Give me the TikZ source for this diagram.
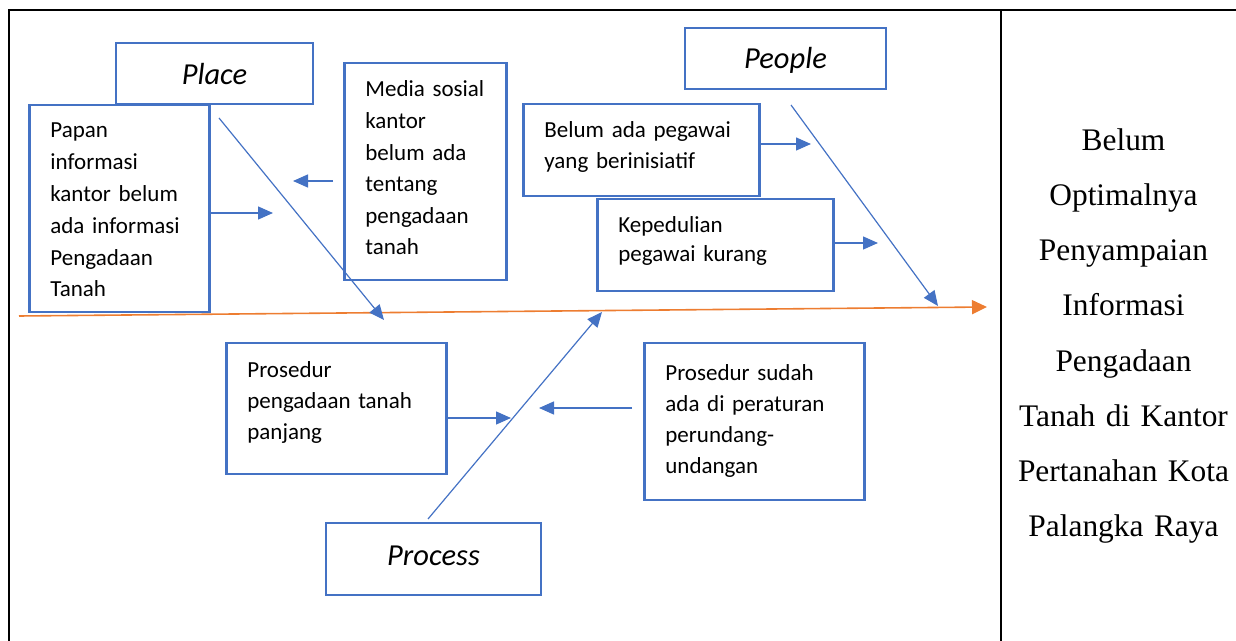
\documentclass[tikz,border=0pt]{standalone}
\usepackage{fontspec}
\setmainfont{Liberation Serif}
\newfontfamily\calibri{Carlito}
\usetikzlibrary{arrows.meta}
\definecolor{boxblue}{HTML}{4472C4}
\definecolor{spineorange}{HTML}{ED7D31}
\tikzset{
  frameline/.style={line width=1.3pt, black},
  cbox/.style={draw=boxblue, line width=1.4pt, inner xsep=10.5pt, inner ysep=0pt,
    align=left, anchor=base west},
  boxfont/.style={font=\calibri\fontsize{11.5}{#1}\selectfont},
  catbox/.style={draw=boxblue, line width=1.4pt, inner sep=0pt, anchor=base,
    font=\calibri\itshape\fontsize{15.25}{18}\selectfont},
  bone/.style={draw=boxblue, line width=0.6pt, -{Triangle[length=7.5pt,width=6.5pt]}},
  arr/.style={draw=boxblue, line width=0.7pt, -{Triangle[length=7.5pt,width=6.5pt]}},
  spine/.style={draw=spineorange, line width=0.8pt, -{Triangle[length=7.5pt,width=7pt]}},
}
\begin{document}
\begin{tikzpicture}[x=0.5pt,y=-0.5pt]
\useasboundingbox (0,0) rectangle (1236,641);
% frame
\draw[frameline] (9,641) -- (9,10) -- (1236,10);
\draw[frameline] (1001,10) -- (1001,641);

% category boxes
\node[catbox, minimum width=98.5pt, text height=21pt, text depth=9.5pt] (place) at (214.5,85) {Place};
\node[catbox, minimum width=100.5pt, text height=20.5pt, text depth=10pt] (people) at (785.5,69) {People};
\node[catbox, minimum width=107.5pt, text height=21pt, text depth=15pt] (process) at (433.5,565) {Process};

% cause boxes
\node[cbox, boxfont=15.9, text width=69pt, text height=16.5pt, text depth=87pt] (papan) at (28,138)
  {Papan\\informasi\\kantor belum\\ada informasi\\Pengadaan\\Tanah};
\node[cbox, boxfont=15.8, text width=60pt, text height=17pt, text depth=91.5pt] (media) at (343,97)
  {Media sosial\\kantor\\belum ada\\tentang\\pengadaan\\tanah};
\node[cbox, boxfont=15.5, text width=97pt, text height=17pt, text depth=29pt] (belum) at (522,138)
  {Belum ada pegawai\\yang berinisiatif};
\node[cbox, boxfont=14.5, text width=97pt, text height=17pt, text depth=29pt] (kepedulian) at (596,233)
  {Kepedulian\\pegawai kurang};
\node[cbox, boxfont=15.5, text width=89pt, text height=17.5pt, text depth=48pt] (prosedurA) at (225,378)
  {Prosedur\\pengadaan tanah\\panjang};
\node[cbox, boxfont=15.5, text width=89pt, text height=18.5pt, text depth=60pt] (prosedurB) at (643,380)
  {Prosedur sudah\\ada di peraturan\\perundang-\\undangan};

% effect
\node[font=\fontsize{15.7}{27.55}\selectfont, text width=115pt, align=center, anchor=base, inner sep=0pt] (effect)
  at (1123.5,150.7)
  {Belum\\Optimalnya\\Penyampaian\\Informasi\\Pengadaan\\Tanah di Kantor\\Pertanahan Kota\\Palangka Raya};

% spine
\coordinate (spL) at (19,316);
\coordinate (spR) at (987,307);
\draw[spine] (spL) -- (spR);

% bones
\coordinate (plA) at (219,118);
\coordinate (plB) at (384,320);
\coordinate (peA) at (791,105);
\coordinate (peB) at (938,306);
\coordinate (prA) at (428,519);
\coordinate (prB) at (602,312);
\draw[bone] (plA) -- (plB);
\draw[bone] (peA) -- (peB);
\draw[bone] (prA) -- (prB);

% small arrows
\coordinate (papanT) at (273,213);
\draw[arr] (papan.east |- papanT) -- (papanT);
\coordinate (mediaS) at (333,181);
\coordinate (mediaT) at (293,181);
\draw[arr] (mediaS) -- (mediaT);
\coordinate (belumT) at (811,144);
\draw[arr] (belum.east |- belumT) -- (belumT);
\coordinate (kepT) at (878,243);
\draw[arr] (kepedulian.east |- kepT) -- (kepT);
\coordinate (prAT) at (511,418);
\draw[arr] (prosedurA.east |- prAT) -- (prAT);
\coordinate (prBS) at (632,408);
\coordinate (prBT) at (539,408);
\draw[arr] (prBS) -- (prBT);
\end{tikzpicture}
\end{document}
